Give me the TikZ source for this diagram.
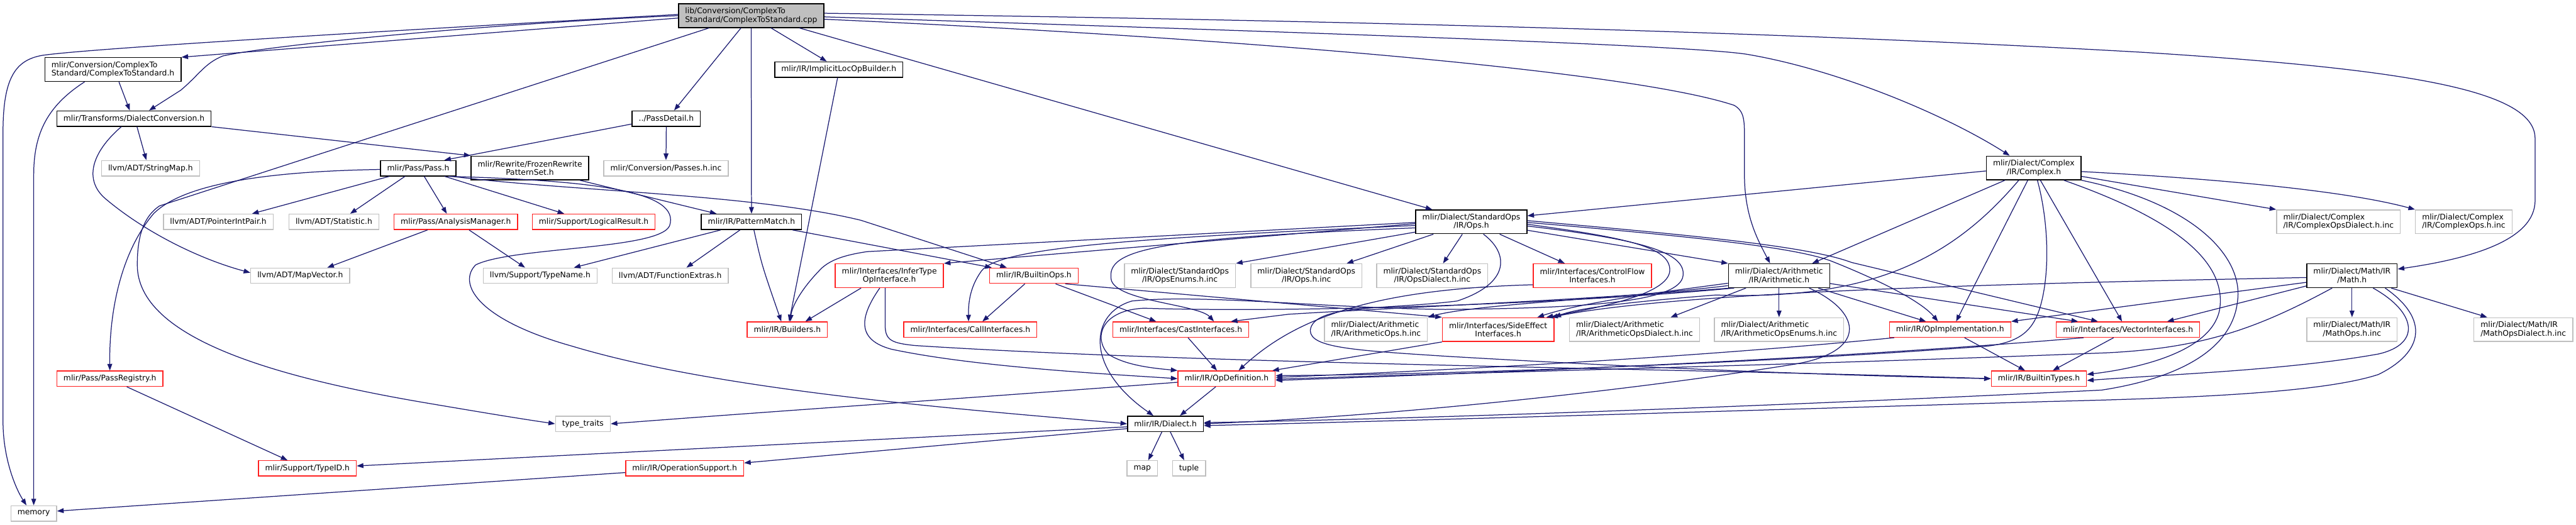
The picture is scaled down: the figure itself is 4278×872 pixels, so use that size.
\documentclass[tikz,border=0pt]{standalone}
\usepackage{fontspec}
\setmainfont{DejaVu Sans}
\usetikzlibrary{arrows.meta}
\definecolor{depblue}{HTML}{191970}
\definecolor{extgray}{HTML}{BFBFBF}
\definecolor{cutred}{HTML}{FF2020}
\definecolor{rootgray}{HTML}{BFBFBF}
\newcommand{\labelfont}{\fontsize{12.9pt}{14pt}\selectfont}

\begin{document}
\begin{tikzpicture}[x=1pt,y=-1pt,
    file/.style={draw=black,line width=1.5pt,font=\labelfont,inner xsep=11pt,
      inner ysep=0pt,minimum height=25.5pt,align=center},
    tall/.style={minimum height=39.5pt},
    extfile/.style={file,draw=extgray},
    cutfile/.style={file,draw=cutred},
    rootfile/.style={file,fill=rootgray},
    dep/.style={draw=depblue,line width=1.3pt,-{Triangle[length=11pt,width=8pt]}}]
  \useasboundingbox (0,0) rectangle (4278,872);
  % Berkas
  \node[rootfile,tall,align=left] (root) at (1247.5,26) {lib/Conversion/ComplexTo\\Standard/ComplexToStandard.cpp};
  \node[file,tall,align=left] (cts) at (187.5,115.5) {mlir/Conversion/ComplexTo\\Standard/ComplexToStandard.h};
  \node[file] (dconv) at (222.5,197) {mlir/Transforms/DialectConversion.h};
  \node[extfile] (stringmap) at (250,279.5) {llvm/ADT/StringMap.h};
  \node[file] (passdetail) at (1106.5,197) {../PassDetail.h};
  \node[extfile] (passesinc) at (1106,279.5) {mlir/Conversion/Passes.h.inc};
  \node[file] (pass) at (694.5,279.5) {mlir/Pass/Pass.h};
  \node[file,tall] (frozen) at (880,279) {mlir/Rewrite/FrozenRewrite\\PatternSet.h};
  \node[file] (implicit) at (1393,115.5) {mlir/IR/ImplicitLocOpBuilder.h};
  \node[extfile] (ptrint) at (362.5,368.5) {llvm/ADT/PointerIntPair.h};
  \node[extfile] (statistic) at (554.5,368.5) {llvm/ADT/Statistic.h};
  \node[cutfile] (analysis) at (757,368.5) {mlir/Pass/AnalysisManager.h};
  \node[cutfile] (logical) at (986,368.5) {mlir/Support/LogicalResult.h};
  \node[file] (patmatch) at (1248,368.5) {mlir/IR/PatternMatch.h};
  \node[extfile] (mapvector) at (498.5,458) {llvm/ADT/MapVector.h};
  \node[extfile] (typename) at (897,458) {llvm/Support/TypeName.h};
  \node[extfile] (funcext) at (1113,458) {llvm/ADT/FunctionExtras.h};
  \node[cutfile] (builders) at (1307.5,547.5) {mlir/IR/Builders.h};
  \node[extfile] (typetraits) at (968,704) {type\_traits};
  \node[cutfile] (opsupport) at (1137,778) {mlir/IR/OperationSupport.h};
  \node[cutfile] (passreg) at (182.5,629) {mlir/Pass/PassRegistry.h};
  \node[cutfile] (typeid) at (510.5,778) {mlir/Support/TypeID.h};
  \node[extfile] (memory) at (56,853) {memory};
  \node[cutfile,tall] (infertype) at (1477,458) {mlir/Interfaces/InferType\\OpInterface.h};
  \node[cutfile] (builtinops) at (1717,458) {mlir/IR/BuiltinOps.h};
  \node[cutfile] (callif) at (1611.5,547.5) {mlir/Interfaces/CallInterfaces.h};
  \node[cutfile] (castif) at (1961,547.5) {mlir/Interfaces/CastInterfaces.h};
  \node[cutfile] (opdef) at (2037,629) {mlir/IR/OpDefinition.h};
  \node[file] (dialect) at (1935.5,704) {mlir/IR/Dialect.h};
  \node[extfile] (map) at (1897,778) {map};
  \node[extfile] (tuple) at (1974.5,778) {tuple};
  \node[extfile,tall] (opsenums) at (1959.5,458) {mlir/Dialect/StandardOps\\/IR/OpsEnums.h.inc};
  \node[extfile,tall] (opsinc) at (2169.5,458) {mlir/Dialect/StandardOps\\/IR/Ops.h.inc};
  \node[extfile,tall] (opsdialect) at (2378.5,458) {mlir/Dialect/StandardOps\\/IR/OpsDialect.h.inc};
  \node[cutfile,tall] (controlflow) at (2644.5,458) {mlir/Interfaces/ControlFlow\\Interfaces.h};
  \node[extfile,tall,align=left] (arithopsinc) at (2285,547.5) {mlir/Dialect/Arithmetic\\/IR/ArithmeticOps.h.inc};
  \node[cutfile,tall] (sideeffect) at (2488,547.5) {mlir/Interfaces/SideEffect\\Interfaces.h};
  \node[extfile,tall,align=left] (arithdialect) at (2714.5,547.5) {mlir/Dialect/Arithmetic\\/IR/ArithmeticOpsDialect.h.inc};
  \node[extfile,tall,align=left] (arithenums) at (2954.5,547.5) {mlir/Dialect/Arithmetic\\/IR/ArithmeticOpsEnums.h.inc};
  \node[file,tall] (arith) at (2954.5,458) {mlir/Dialect/Arithmetic\\/IR/Arithmetic.h};
  \node[cutfile] (opimpl) at (3238.5,547.5) {mlir/IR/OpImplementation.h};
  \node[cutfile] (vectorif) at (3534,547.5) {mlir/Interfaces/VectorInterfaces.h};
  \node[cutfile] (builtintypes) at (3386,629) {mlir/IR/BuiltinTypes.h};
  \node[file,tall] (math) at (3906,458) {mlir/Dialect/Math/IR\\/Math.h};
  \node[extfile,tall] (mathopsinc) at (3906,547.5) {mlir/Dialect/Math/IR\\/MathOps.h.inc};
  \node[extfile,tall,align=left] (mathdialect) at (4190.5,547.5) {mlir/Dialect/Math/IR\\/MathOpsDialect.h.inc};
  \node[file,tall] (stdops) at (2443.5,368.5) {mlir/Dialect/StandardOps\\/IR/Ops.h};
  \node[file,tall] (complex) at (3377.5,279) {mlir/Dialect/Complex\\/IR/Complex.h};
  \node[extfile,tall,align=left] (cplxdialect) at (3883.5,368.5) {mlir/Dialect/Complex\\/IR/ComplexOpsDialect.h.inc};
  \node[extfile,tall,align=left] (cplxops) at (4091.5,368.5) {mlir/Dialect/Complex\\/IR/ComplexOps.h.inc};

  % Dari berkas .cpp
  \draw[dep] ([yshift=-4pt]root.west) -- (cts.north east);
  \draw[dep] (root.west) .. controls (800,40) and (450,75) .. (370,93) .. controls (340,105) and (330,125) .. (300,150) -- ([xshift=25pt]dconv.north);
  \draw[dep] ([yshift=2pt]root.west) .. controls (700,48) and (150,80) .. (70,92) .. controls (25,100) and (5,130) .. (5,220) -- (5,700) .. controls (5,760) and (25,810) .. ([xshift=-12pt]memory.north);
  \draw[dep] ([xshift=-70pt]root.south) -- (265,342) .. controls (235,362) and (228,400) .. (228,440) .. controls (228,560) and (450,625) .. (700,668) .. controls (800,685) and (860,695) .. (typetraits.west);
  \draw[dep] ([xshift=-17pt]root.south) -- ([xshift=13pt]passdetail.north);
  \draw[dep] (root.south) -- (patmatch.north);
  \draw[dep] ([xshift=33pt]root.south) -- ([xshift=-20pt]implicit.north);
  \draw[dep] ([xshift=80pt]root.south) -- ([xshift=-65pt]stdops.north);
  \draw[dep] ([yshift=-6pt]root.east) .. controls (2000,60) and (2700,115) .. (2880,175) .. controls (2897,185) and (2897,200) .. (2897,230) -- (2897,290) .. controls (2897,360) and (2920,400) .. ([xshift=-15pt]arith.north);
  \draw[dep] ([yshift=-2pt]root.east) .. controls (2200,55) and (2800,75) .. (2900,90) .. controls (3050,115) and (3230,190) .. ([xshift=-40pt]complex.north);
  \draw[dep] ([yshift=4pt]root.east) .. controls (2300,35) and (3000,55) .. (3560,87) .. controls (4000,115) and (4210,150) .. (4210,230) -- (4210,333) .. controls (4210,400) and (4100,430) .. ([yshift=11pt]math.east);

  % Konversi dan pass
  \draw[dep] ([xshift=10pt]cts.south) -- ([xshift=-7pt]dconv.north);
  \draw[dep] ([xshift=-47pt]cts.south) .. controls (80,175) and (56,220) .. (56,290) -- (memory.north);
  \draw[dep] ([xshift=5pt]dconv.south) -- ([xshift=-7pt]stringmap.north);
  \draw[dep] (dconv.south east) -- (frozen.north west);
  \draw[dep] ([xshift=-21pt]dconv.south) .. controls (150,255) and (140,300) .. (175,330) .. controls (240,385) and (330,430) .. ([yshift=5pt]mapvector.west);
  \draw[dep] ([yshift=-9pt]passdetail.west) -- ([xshift=-20pt]pass.north east);
  \draw[dep] (passdetail.south) -- (passesinc.north);
  \draw[dep] ([xshift=-48pt]pass.south) -- ([xshift=56pt]ptrint.north);
  \draw[dep] ([xshift=-22pt]pass.south) -- ([xshift=27pt]statistic.north);
  \draw[dep] ([xshift=10pt]pass.south) -- ([xshift=-15pt]analysis.north);
  \draw[dep] ([xshift=44pt]pass.south) -- ([xshift=-49pt]logical.north);
  \draw[dep] ([yshift=-2pt]pass.west) .. controls (420,285) and (300,310) .. (255,355) .. controls (200,420) and (181,520) .. (passreg.north);
  \draw[dep] ([xshift=50pt]pass.south) .. controls (1000,300) and (1130,320) .. (1112,375) .. controls (1095,415) and (850,410) .. (790,440) .. controls (760,470) and (790,530) .. (950,575) .. controls (1200,650) and (1600,680) .. (dialect.west);
  \draw[dep] ([xshift=56pt]pass.south) .. controls (950,318) and (1250,322) .. (1430,366) -- ([xshift=-45pt]builtinops.north);
  \draw[dep] ([xshift=83pt]frozen.south) -- ([xshift=-58pt]patmatch.north);
  \draw[dep] ([xshift=-51pt]patmatch.south) -- ([xshift=56pt]typename.north);
  \draw[dep] ([xshift=-19pt]patmatch.south) -- ([xshift=27pt]funcext.north);
  \draw[dep] ([xshift=4pt]patmatch.south) .. controls (1265,440) .. ([xshift=-10pt]builders.north);
  \draw[dep] ([xshift=68pt]patmatch.south) -- ([xshift=-70pt]builtinops.north);
  \draw[dep] ([xshift=-47pt]analysis.south) -- ([xshift=45pt]mapvector.north);
  \draw[dep] ([xshift=22pt]analysis.south) -- ([xshift=-25pt]typename.north);
  \draw[dep] ([xshift=28pt]passreg.south) -- ([xshift=-33pt]typeid.north);
  \draw[dep] ([xshift=-2pt]implicit.south) -- ([xshift=3pt]builders.north);

  % Interface dan IR
  \draw[dep] ([xshift=-47pt]infertype.south) -- ([xshift=30pt]builders.north);
  \draw[dep] ([xshift=-16pt]infertype.south) .. controls (1425,530) and (1425,565) .. (1480,580) .. controls (1620,610) and (1850,622) .. (opdef.west);
  \draw[dep] ([xshift=-7pt]infertype.south) -- (1470,540) .. controls (1470,565) and (1480,570) .. (1520,574) .. controls (2000,605) and (2800,612) .. (builtintypes.west);
  \draw[dep] ([xshift=-15pt]builtinops.south) -- ([xshift=20pt]callif.north);
  \draw[dep] ([xshift=36pt]builtinops.south) -- ([xshift=-41pt]castif.north);
  \draw[dep] ([xshift=52pt]builtinops.south) -- (sideeffect.north west);
  \draw[dep] ([xshift=12pt]castif.south) -- ([xshift=-16pt]opdef.north);
  \draw[dep] (sideeffect.south west) -- ([xshift=76pt]opdef.north);
  \draw[dep] ([yshift=-15pt]controlflow.west) .. controls (2300,480) and (2160,520) .. ([xshift=20pt]opdef.north);
  \draw[dep] ([xshift=-93pt]opimpl.south) .. controls (2800,595) and (2400,615) .. ([yshift=2pt]opdef.east);
  \draw[dep] ([xshift=24pt]opimpl.south) -- ([xshift=-23pt]builtintypes.north);
  \draw[dep] ([xshift=-74pt]vectorif.south) .. controls (3000,600) and (2400,622) .. ([yshift=-3pt]opdef.east);
  \draw[dep] ([xshift=-24pt]vectorif.south) -- ([xshift=23pt]builtintypes.north);
  \draw[dep] ([xshift=-18pt]opdef.south) -- ([xshift=24pt]dialect.north);
  \draw[dep] ([yshift=-6pt]opdef.west) .. controls (1600,662) and (1300,682) .. (typetraits.east);
  \draw[dep] ([xshift=-6pt]dialect.south) -- ([xshift=10pt]map.north);
  \draw[dep] ([xshift=8pt]dialect.south) -- ([xshift=-8pt]tuple.north);
  \draw[dep] ([yshift=-5pt]dialect.west) -- ([yshift=4pt]typeid.east);
  \draw[dep] ([yshift=-8pt]dialect.west) -- ([yshift=9pt]opsupport.east);
  \draw[dep] ([yshift=-7pt]opsupport.west) -- ([yshift=4pt]memory.east);

  % StandardOps
  \draw[dep] ([yshift=-17pt]stdops.west) -- (opsenums.north east);
  \draw[dep] ([xshift=-63pt]stdops.south) -- ([xshift=67pt]opsinc.north);
  \draw[dep] ([xshift=-15pt]stdops.south) -- ([xshift=18pt]opsdialect.north);
  \draw[dep] ([xshift=47pt]stdops.south) -- ([xshift=-46pt]controlflow.north);
  \draw[dep] ([yshift=-1pt]stdops.west) -- (1440,418) .. controls (1400,424) and (1380,432) .. (1365,445) .. controls (1330,480) and (1315,510) .. ([xshift=5pt]builders.north);
  \draw[dep] ([yshift=-3pt]stdops.west) -- (infertype.north east);
  \draw[dep] ([yshift=-6pt]stdops.west) .. controls (1900,395) and (1660,410) .. (1630,450) .. controls (1612,475) and (1608,500) .. ([xshift=-3pt]callif.north);
  \draw[dep] ([yshift=-10pt]stdops.west) .. controls (1950,395) and (1840,410) .. (1845,460) .. controls (1842,500) and (1990,505) .. ([xshift=55pt]castif.north);
  \draw[dep] ([yshift=-4pt]stdops.east) .. controls (2700,395) and (2775,410) .. (2773,450) .. controls (2770,490) and (2650,512) .. ([xshift=80pt]sideeffect.north);
  \draw[dep] ([yshift=-7pt]stdops.east) .. controls (2730,398) and (2800,420) .. (2795,458) .. controls (2790,500) and (2650,512) .. (2400,514) .. controls (2200,512) and (2000,488) .. (1880,500) .. controls (1810,520) and (1800,610) .. ([xshift=-20pt]dialect.north);
  \draw[dep] ([yshift=-14pt]stdops.east) -- (arith.north west);
  \draw[dep] ([yshift=-1pt]stdops.east) .. controls (2800,392) and (2980,410) .. (3042,434) .. controls (3120,465) and (3190,500) .. ([xshift=-20pt]opimpl.north);
  \draw[dep] ([yshift=2pt]stdops.east) .. controls (2800,390) and (3000,408) .. (3075,436) -- ([xshift=-50pt]vectorif.north);
  \draw[dep] ([xshift=20pt]stdops.south) .. controls (2505,420) and (2510,470) .. (2420,500) .. controls (2300,515) and (2180,505) .. (2176,549) .. controls (2176,578) and (2250,582) .. (2405,592) .. controls (2800,615) and (3100,625) .. (builtintypes.west);

  % Arithmetic
  \draw[dep] (arith.south) -- (arithenums.north);
  \draw[dep] ([xshift=-55pt]arith.south) -- ([xshift=60pt]arithdialect.north);
  \draw[dep] ([yshift=4pt]arith.south west) .. controls (2700,495) and (2450,505) .. (arithopsinc.north east);
  \draw[dep] ([yshift=8pt]arith.south west) .. controls (2720,490) and (2620,505) .. ([xshift=65pt]sideeffect.north);
  \draw[dep] ([xshift=4pt]arith.south west) .. controls (2600,500) and (2300,512) .. (2140,522) -- ([xshift=83pt]castif.north);
  \draw[dep] ([xshift=10pt]arith.south west) .. controls (2600,505) and (2150,520) .. (1900,512) .. controls (1830,515) and (1815,560) .. (1840,588) .. controls (1870,608) and (1920,612) .. (opdef.north west);
  \draw[dep] ([yshift=-13pt]arith.east) -- ([xshift=-83pt]vectorif.north);
  \draw[dep] ([xshift=65pt]arith.south) -- ([xshift=-40pt]opimpl.north);
  \draw[dep] ([xshift=50pt]arith.south) .. controls (3095,520) and (3100,585) .. (2980,605) .. controls (2700,650) and (2300,692) .. (dialect.east);

  % Complex
  \draw[dep] ([yshift=-5pt]complex.west) -- ([yshift=10pt]stdops.east);
  \draw[dep] ([xshift=-48pt]complex.south) -- ([xshift=55pt]arith.north);
  \draw[dep] ([xshift=-25pt]complex.south) .. controls (3250,420) and (3120,500) .. (2850,490) .. controls (2700,502) and (2620,512) .. (sideeffect.north east);
  \draw[dep] ([xshift=-10pt]complex.south) -- ([xshift=10pt]opimpl.north);
  \draw[dep] ([xshift=6pt]complex.south) .. controls (3400,360) and (3405,440) .. (3391,499) .. controls (3380,545) and (3360,568) .. (3300,575) .. controls (2900,605) and (2400,622) .. ([yshift=5pt]opdef.east);
  \draw[dep] ([xshift=11pt]complex.south) -- ([xshift=-10pt]vectorif.north);
  \draw[dep] ([xshift=50pt]complex.south) .. controls (3600,360) and (3700,430) .. (3686,515) .. controls (3672,585) and (3550,612) .. ([yshift=7pt]builtintypes.east);
  \draw[dep] (complex.south east) .. controls (3650,340) and (3725,430) .. (3716,499) .. controls (3708,580) and (3620,628) .. (3490,648) .. controls (3000,672) and (2400,695) .. ([yshift=2pt]dialect.east);
  \draw[dep] ([yshift=-14pt]complex.east) -- (cplxdialect.north west);
  \draw[dep] ([yshift=-6pt]complex.east) .. controls (3700,298) and (3900,318) .. (cplxops.north west);

  % Math
  \draw[dep] (math.south) -- (mathopsinc.north);
  \draw[dep] ([xshift=65pt]math.south) -- ([xshift=-60pt]mathdialect.north);
  \draw[dep] ([yshift=-11pt]math.west) -- (opimpl.north east);
  \draw[dep] ([yshift=-3pt]math.west) .. controls (3400,470) and (2800,482) .. ([xshift=88pt]sideeffect.north);
  \draw[dep] ([yshift=-17pt]math.west) -- ([xshift=65pt]vectorif.north);
  \draw[dep] ([xshift=-33pt]math.south) .. controls (3750,545) and (3660,578) .. (3500,586) .. controls (3000,606) and (2400,620) .. ([yshift=-1pt]opdef.east);
  \draw[dep] ([xshift=35pt]math.south) .. controls (4015,520) and (4020,572) .. (3950,588) .. controls (3800,615) and (3600,622) .. ([yshift=-3pt]builtintypes.east);
  \draw[dep] ([xshift=55pt]math.south) .. controls (4035,530) and (4025,585) .. (3950,622) .. controls (3850,655) and (3600,662) .. (3400,667) .. controls (2800,685) and (2300,700) .. ([yshift=-3pt]dialect.east);
\end{tikzpicture}
\end{document}
